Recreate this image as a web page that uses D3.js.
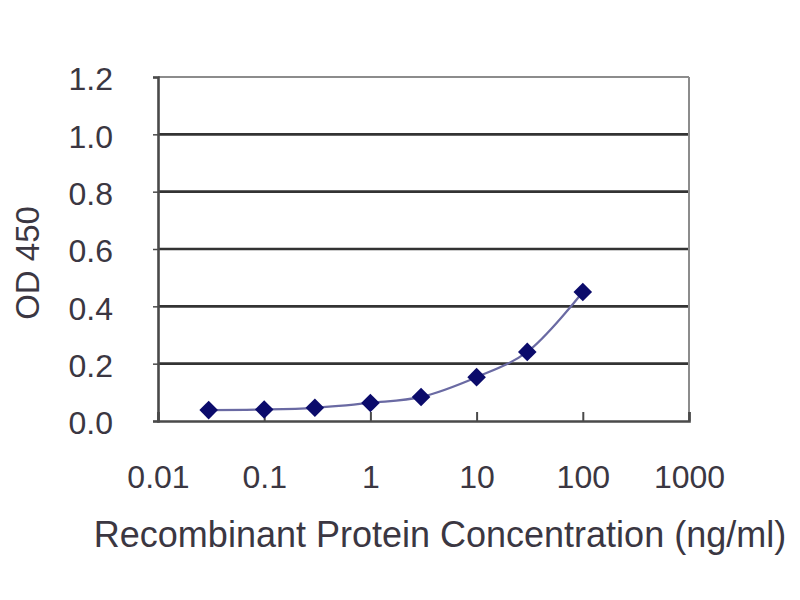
<!DOCTYPE html>
<html>
<head>
<meta charset="utf-8">
<script src="https://cdn.jsdelivr.net/npm/d3@7"></script>
<style>
  html, body { margin: 0; padding: 0; background: #ffffff; }
  svg { display: block; }
  text { font-family: "Liberation Sans", Arial, sans-serif; fill: #3b3742; }
</style>
</head>
<body>
<svg id="chart" width="800" height="600"></svg>
<script>
const concentrations = [0.03, 0.1, 0.3, 1, 3, 10, 30, 100];
const odValues = [0.038, 0.040, 0.046, 0.063, 0.084, 0.153, 0.241, 0.450];
const xTickValues = [0.01, 0.1, 1, 10, 100, 1000];
const xTickLabels = ["0.01", "0.1", "1", "10", "100", "1000"];
const yTickValues = [0, 0.2, 0.4, 0.6, 0.8, 1.0, 1.2];
const yTickLabels = ["0.0", "0.2", "0.4", "0.6", "0.8", "1.0", "1.2"];
const xTitle = "Recombinant Protein Concentration (ng/ml)";
const yTitle = "OD 450";

const margin = { left: 158, right: 111, top: 77, bottom: 179 };
const W = 800, H = 600;
const svg = d3.select("#chart");

const x = d3.scaleLog().domain([0.01, 1000]).range([margin.left, W - margin.right]);
const y = d3.scaleLinear().domain([0, 1.2]).range([H - margin.bottom, margin.top]);

// gridlines
svg.append("g")
  .selectAll("line")
  .data(yTickValues.filter(v => v > 0 && v < 1.2))
  .join("line")
  .attr("x1", x(0.01)).attr("x2", x(1000))
  .attr("y1", d => y(d)).attr("y2", d => y(d))
  .attr("stroke", "#333333").attr("stroke-width", 2.6);

// top & right border (lighter)
svg.append("line")
  .attr("x1", x(0.01)).attr("x2", x(1000))
  .attr("y1", y(1.2)).attr("y2", y(1.2))
  .attr("stroke", "#8c8c8c").attr("stroke-width", 2);
svg.append("line")
  .attr("x1", x(1000)).attr("x2", x(1000))
  .attr("y1", y(1.2)).attr("y2", y(0))
  .attr("stroke", "#8c8c8c").attr("stroke-width", 2);

// y axis
const yAxis = d3.axisLeft(y).tickValues(yTickValues)
  .tickFormat((d, i) => yTickLabels[i]).tickSize(5).tickPadding(40);
const gy = svg.append("g").attr("transform", `translate(${x(0.01)},0)`).call(yAxis);
gy.select(".domain").attr("stroke", "#4a4a4a").attr("stroke-width", 2.6);
gy.selectAll(".tick line").attr("stroke", "#4a4a4a").attr("stroke-width", 1.5);
gy.selectAll(".tick text")
  .attr("font-size", 32).attr("fill", "#3b3742").attr("dy", "0.4em")
  .style("font-family", "'Liberation Sans', Arial, sans-serif");

// x axis (ticks inward)
const xAxis = d3.axisBottom(x).tickValues(xTickValues)
  .tickFormat((d, i) => xTickLabels[i]).tickSize(-9).tickPadding(0);
const gx = svg.append("g").attr("transform", `translate(0,${y(0)})`).call(xAxis);
gx.select(".domain").attr("stroke", "#4a4a4a").attr("stroke-width", 2.6);
gx.selectAll(".tick line").attr("stroke", "#4a4a4a").attr("stroke-width", 2);
gx.selectAll(".tick text")
  .attr("font-size", 32).attr("fill", "#3b3742").attr("y", 0).attr("dy", 67)
  .style("font-family", "'Liberation Sans', Arial, sans-serif");

// curve
const pts = concentrations.map((c, i) => [c, odValues[i]]);
const line = d3.line().x(d => x(d[0])).y(d => y(d[1])).curve(d3.curveCatmullRom.alpha(0.5));
svg.append("path").datum(pts)
  .attr("d", line).attr("fill", "none")
  .attr("stroke", "#6a6aa3").attr("stroke-width", 2.2);

// diamond markers
const diamond = d3.symbol().type(d3.symbolDiamond2).size(220);
svg.append("g").selectAll("path")
  .data(pts).join("path")
  .attr("transform", d => `translate(${x(d[0])},${y(d[1])})`)
  .attr("d", diamond)
  .attr("fill", "#0b0b6b");

// titles
svg.append("text")
  .attr("x", 440).attr("y", 547)
  .attr("text-anchor", "middle").attr("font-size", 36)
  .text(xTitle);
svg.append("text")
  .attr("transform", "translate(39,263) rotate(-90)")
  .attr("text-anchor", "middle").attr("font-size", 33)
  .text(yTitle);
</script>
</body>
</html>
